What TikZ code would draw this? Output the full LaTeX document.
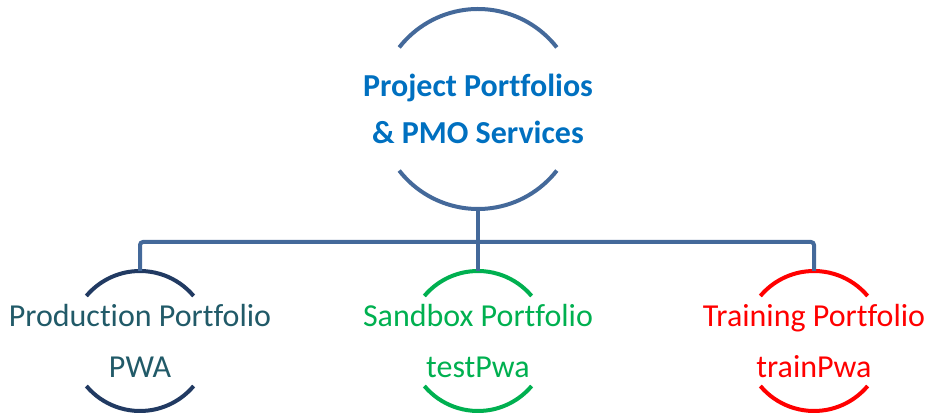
\documentclass[tikz,border=0pt]{standalone}
\usepackage{fontspec}
\setmainfont{Carlito}[Ligatures=NoCommon]
\definecolor{conn}{HTML}{44699A}
\definecolor{topblue}{HTML}{0070C0}
\definecolor{navy}{HTML}{213A62}
\definecolor{teal}{HTML}{215A68}
\definecolor{sgreen}{HTML}{00B050}
\definecolor{tred}{HTML}{FF0000}
\begin{document}
\begin{tikzpicture}[x=1pt,y=1pt,
  holder/.style={circle,inner sep=0pt,outer sep=0pt,minimum size=#1},
  arcline/.style={line width=4pt,draw=#1},
  connline/.style={line width=4pt,draw=conn,rounded corners=3pt},
  toptext/.style={align=center,font=\fontsize{32}{47}\selectfont\bfseries,text=topblue},
  childtext/.style={align=center,font=\fontsize{32}{51}\selectfont,text=#1}]
\useasboundingbox (0,0) rectangle (927,415);
\node[holder=200pt] (top) at (478,306) {};
\node[holder=140pt] (c1) at (140,74) {};
\node[holder=140pt] (c2) at (478,74) {};
\node[holder=140pt] (c3) at (814,74) {};
\coordinate (bus) at (478,173);
% top circle arcs
\draw[arcline=conn] (top.center) ++(38:100) arc[start angle=38,end angle=142,radius=100];
\draw[arcline=conn] (top.center) ++(218:100) arc[start angle=218,end angle=322,radius=100];
% child arcs
\draw[arcline=navy] (c1.center) ++(40:70) arc[start angle=40,end angle=140,radius=70];
\draw[arcline=navy] (c1.center) ++(220:70) arc[start angle=220,end angle=320,radius=70];
\draw[arcline=sgreen] (c2.center) ++(40:70) arc[start angle=40,end angle=140,radius=70];
\draw[arcline=sgreen] (c2.center) ++(220:70) arc[start angle=220,end angle=320,radius=70];
\draw[arcline=tred] (c3.center) ++(40:70) arc[start angle=40,end angle=140,radius=70];
\draw[arcline=tred] (c3.center) ++(220:70) arc[start angle=220,end angle=320,radius=70];
% connectors
\draw[connline] (top.south) -- (bus);
\draw[connline] (bus) -| (c1.north);
\draw[connline] (bus) -| (c3.north);
\draw[connline] (bus) -- (c2.north);
% texts
\node[toptext] (tt) at (top.center) {Project Portfolios\\\& PMO Services};
\node[childtext=teal] (t1) at (c1.center) {Production Portfolio\\PWA};
\node[childtext=sgreen] (t2) at (c2.center) {Sandbox Portfolio\\testPwa};
\node[childtext=tred] (t3) at (c3.center) {Training Portfolio\\trainPwa};
\end{tikzpicture}
\end{document}
